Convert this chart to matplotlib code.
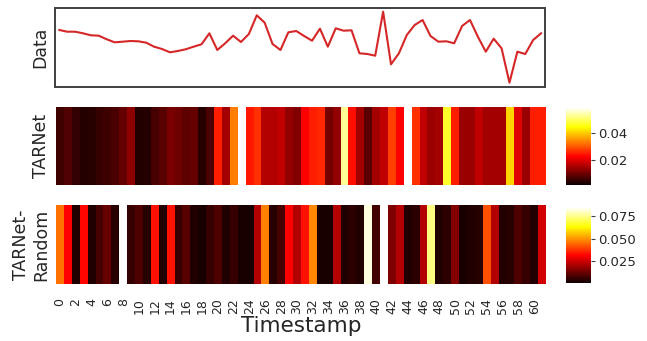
import numpy as np
import matplotlib
matplotlib.use("Agg")
import matplotlib.pyplot as plt

# ---- data ----
timestamps = list(range(62))
data_series = [60.0, 58.3, 58.3, 56.7, 54.7, 54.3, 50.7, 47.7, 48.3, 49.0,
               48.7, 47.3, 43.3, 41.0, 37.7, 39.0, 40.7, 43.3, 45.7, 56.7,
               40.0, 46.7, 54.3, 48.0, 56.0, 74.7, 67.3, 46.0, 40.0, 57.7,
               59.0, 54.0, 49.3, 61.3, 43.3, 61.7, 59.3, 59.7, 36.7, 36.0,
               34.3, 78.3, 25.7, 36.7, 55.0, 65.0, 70.0, 54.0, 48.3, 48.7,
               46.7, 64.0, 70.0, 53.3, 38.3, 51.3, 41.7, 7.3, 38.3, 36.0,
               50.0, 56.7]

tarnet = [0.0066, 0.0079, 0.0054, 0.0044, 0.0046, 0.0058, 0.0066, 0.0075, 0.0097, 0.0131,
          0.0041, 0.0044, 0.0071, 0.0088, 0.0114, 0.0105, 0.0092, 0.0097, 0.0046, 0.0075,
          0.0251, 0.0148, 0.0331, np.nan, 0.0246, 0.0265, 0.0161, 0.0161, 0.0174, 0.0135,
          0.0123, 0.0224, 0.0251, 0.0258, 0.0110, 0.0135, 0.0523, 0.0238, 0.0148, 0.0088,
          0.0148, 0.0174, 0.0278, 0.0224, np.nan, 0.0265, 0.0174, 0.0143, 0.0148, 0.0465,
          0.0251, 0.0143, 0.0143, 0.0174, 0.0148, 0.0148, 0.0148, 0.0405, 0.0199, 0.0143,
          0.0251, 0.0251]

tarnet_random = [0.0452, 0.0313, 0.0041, 0.0320, 0.0036, 0.0086, 0.0124, 0.0048, np.nan, 0.0067,
                 0.0092, 0.0048, 0.0333, 0.0036, 0.0333, 0.0067, 0.0105, 0.0036, 0.0028, 0.0067,
                 0.0092, 0.0036, 0.0067, 0.0028, 0.0028, 0.0219, 0.0472, 0.0048, 0.0086, 0.0313,
                 0.0219, 0.0333, 0.0481, 0.0028, 0.0028, 0.0219, 0.0036, 0.0054, 0.0036, 0.0814,
                 0.0079, np.nan, 0.0155, 0.0219, 0.0036, 0.0054, 0.0219, 0.0735, 0.0036, 0.0054,
                 0.0162, 0.0028, 0.0036, 0.0048, 0.0412, 0.0219, 0.0036, 0.0048, 0.0092, 0.0067,
                 0.0036, 0.0257]

tick_labels = [str(t) for t in timestamps if t % 2 == 0]
row_labels = ["Data", "TARNet", "TARNet-\nRandom"]

# ---- figure ----
W, H = 647, 341
fig = plt.figure(figsize=(W / 100, H / 100), dpi=100)
plt.rcParams['font.family'] = ['DejaVu Sans']
txt = '#262626'

def fr(x0, y0, x1, y1):
    return [x0 / W, (H - y1) / H, (x1 - x0) / W, (y1 - y0) / H]

ax0 = fig.add_axes(fr(55, 8.3, 545, 86.7))
ax1 = fig.add_axes(fr(56, 106.7, 546, 185.3))
ax2 = fig.add_axes(fr(56, 205.3, 546, 284.3))
cax1 = fig.add_axes(fr(566, 107.3, 590.7, 185))
cax2 = fig.add_axes(fr(566, 207.3, 590.7, 283.3))

# Data line
ax0.plot(timestamps, data_series, color='#d62728', lw=1.5)
ax0.set_xlim(-0.55, 61.5)
ax0.set_ylim(3.3, 81.7)
ax0.set_xticks([])
ax0.set_yticks([])
for s in ax0.spines.values():
    s.set_color('#404040')
    s.set_linewidth(1.4)
ax0.set_ylabel(row_labels[0], fontsize=12.5, color=txt)

def heat(ax, cax, vals, vmin, vmax, ticks, label):
    arr = np.ma.masked_invalid(np.array(vals, dtype=float)[None, :])
    m = ax.pcolormesh(np.arange(len(vals) + 1), [0, 1], arr, cmap='hot',
                      vmin=vmin, vmax=vmax)
    ax.set_xlim(0, len(vals))
    ax.set_ylim(0, 1)
    for s in ax.spines.values():
        s.set_visible(False)
    ax.set_yticks([])
    ax.set_ylabel(label, fontsize=12.5, color=txt)
    cb = fig.colorbar(m, cax=cax)
    cb.outline.set_visible(False)
    cb.set_ticks(ticks)
    cax.tick_params(labelsize=9.5, length=3, width=0.8, colors='#404040',
                    labelcolor=txt, pad=2)
    return m

heat(ax1, cax1, tarnet, 0.002, 0.0584, [0.02, 0.04], row_labels[1])
heat(ax2, cax2, tarnet_random, 0.001, 0.0842, [0.025, 0.05, 0.075], row_labels[2])
cax2.set_yticklabels(['0.025', '0.050', '0.075'])

ax1.set_xticks([])
ax2.set_xticks([t + 0.5 for t in timestamps if t % 2 == 0])
ax2.set_xticklabels(tick_labels, rotation=90, fontsize=9, color=txt)
ax2.tick_params(axis='x', length=0, pad=10)

fig.text(301 / W, (H - 316) / H, "Timestamp", fontsize=15.5, color=txt,
         ha='center', va='top')

fig.savefig("out.png", dpi=100)
